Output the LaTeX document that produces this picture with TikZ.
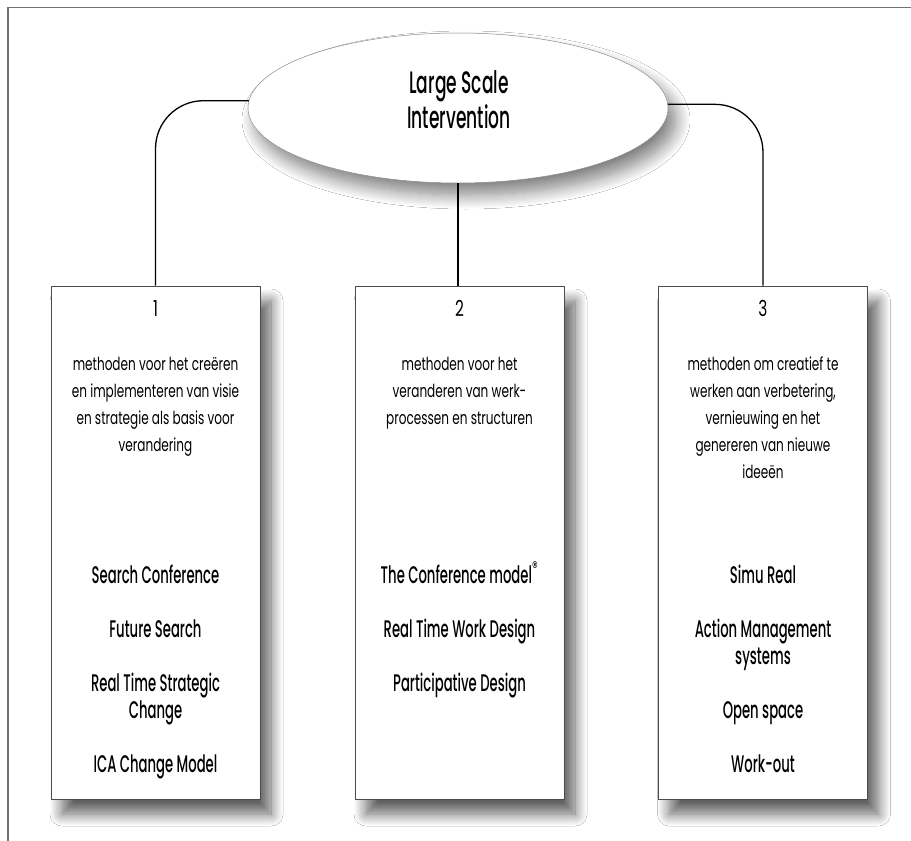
\documentclass[tikz,border=0pt]{standalone}
\usepackage{fontspec}
\setmainfont{Poppins}
\newfontfamily\dscfont{Poppins}[FakeStretch=0.67]
\newfontfamily\itmfont{Poppins Medium}[FakeStretch=0.55]
\newfontfamily\numfnt{Poppins}[FakeStretch=0.7]
\usetikzlibrary{shapes.geometric,shadows.blur}
\tikzset{
  frameline/.style={draw=black!55, line width=1.3pt},
  conn/.style={draw=black, line width=1.3pt},
  methbox/.style={draw=black!70, line width=0.9pt, fill=white, minimum width=209pt, minimum height=513pt, inner sep=0pt,
    blur shadow={shadow xshift=11pt, shadow yshift=-15pt, shadow blur radius=12pt, shadow opacity=62, shadow blur steps=14}},
  topell/.style={ellipse, draw=black!45, line width=0.5pt, fill=white, minimum width=420pt, minimum height=150pt, inner sep=0pt,
    blur shadow={shadow xshift=8pt, shadow yshift=-12pt, shadow blur radius=14pt, shadow opacity=50, shadow blur steps=14}},
  numtxt/.style={anchor=base, inner sep=0pt, font={\numfnt\fontsize{22}{27}\selectfont}},
  dsctxt/.style={anchor=base, inner sep=0pt, align=center, font={\dscfont\fontsize{18}{27}\selectfont}},
  itmtxt/.style={anchor=base, inner sep=0pt, align=center, font={\itmfont\fontsize{24}{27}\selectfont}},
  ttltxt/.style={anchor=base, inner sep=0pt, align=center, font={\itmfont\fontsize{31}{35}\selectfont}},
}
\begin{document}
\begin{tikzpicture}[x=1pt,y=-1pt]
\useasboundingbox (0,0) rectangle (911,841);
\fill[white] (0,0) rectangle (911,841);
% frame
\draw[frameline] (8,841) -- (8,7.5) -- (911,7.5);
% boxes
\node[methbox] (b1) at (155.5,542.5) {};
\node[methbox] (b2) at (459.5,542.5) {};
\node[methbox] (b3) at (763,542.5) {};
% ellipse
\node[topell] (ell) at (458,108) {};
\node[ttltxt] (ttl) at (459,128) {Large Scale\\Intervention};
% connectors
\draw[conn, rounded corners=48pt] (ell.178.6) -| (b1.north);
\draw[conn, rounded corners=48pt] (ell.1.4) -| (b3.north);
\draw[conn] (ell.south) -- (ell.south |- b2.north);
% box 1
\node[numtxt] (n1) at (155.5,316) {1};
\node[dsctxt] (d1) at (155.5,451) {methoden voor het creëren\\en implementeren van visie\\en strategie als basis voor\\verandering};
\node[itmtxt] (i11) at (155.5,583) {Search Conference};
\node[itmtxt] (i12) at (155.5,637) {Future Search};
\node[itmtxt] (i13) at (155.5,718) {Real Time Strategic\\Change};
\node[itmtxt] (i14) at (155.5,772) {ICA Change Model};
% box 2
\node[numtxt] (n2) at (459.5,316) {2};
\node[dsctxt] (d2) at (459.5,424) {methoden voor het\\veranderen van werk-\\processen en structuren};
\node[itmtxt] (i21) at (459.5,583) {The Conference model\textsuperscript{\dscfont ®}};
\node[itmtxt] (i22) at (459.5,637) {Real Time Work Design};
\node[itmtxt] (i23) at (459.5,691) {Participative Design};
% box 3
\node[numtxt] (n3) at (763,316) {3};
\node[dsctxt] (d3) at (763,478) {methoden om creatief te\\werken aan verbetering,\\vernieuwing en het\\genereren van nieuwe\\ideeën};
\node[itmtxt] (i31) at (763,583) {Simu Real};
\node[itmtxt] (i32) at (763,664) {Action Management\\systems};
\node[itmtxt] (i33) at (763,718) {Open space};
\node[itmtxt] (i34) at (763,772) {Work-out};
\end{tikzpicture}
\end{document}
